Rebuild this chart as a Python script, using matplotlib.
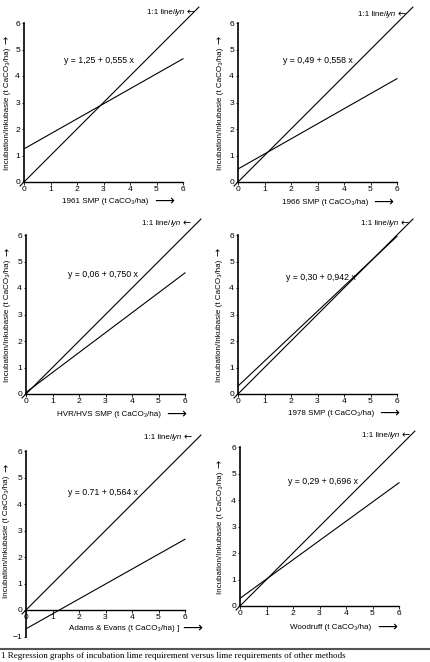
import matplotlib
matplotlib.use("Agg")
import matplotlib.pyplot as plt
from matplotlib.lines import Line2D

plt.rcParams['font.family'] = ['Liberation Sans', 'DejaVu Sans']

# data
x_names = ["1961 SMP", "1966 SMP", "HVR/HVS SMP", "1978 SMP",
           "Adams & Evans", "Woodruff"]
equations = ["y = 1,25 + 0,555 x", "y = 0,49 + 0,558 x", "y = 0,06 + 0,750 x",
             "y = 0,30 + 0,942 x", "y = 0.71 + 0,564 x", "y = 0,29 + 0,696 x"]
reg_x = [0, 6]
reg_y_start = [1.25, 0.49, 0.06, 0.30, -0.71, 0.29]
reg_y_end = [4.65, 3.9, 4.57, 5.95, 2.67, 4.65]
one_to_one = [-0.15, 6.6]
ticks = [0, 1, 2, 3, 4, 5, 6]

# layout in pixels (origin of each panel) and label spots in data units
W, H = 430, 662
origins = [(24, 182), (238, 182), (26, 394), (238, 394), (26, 610), (240, 606)]
scale = 26.5
eq_pos = [(1.5, 4.6), (1.7, 4.6), (1.6, 4.5), (1.8, 4.4), (1.6, 4.45), (1.8, 4.7)]
xl_pos = [(1.45, -0.72), (1.65, -0.77), (1.17, -0.77), (1.87, -0.73), (1.62, -0.68), (1.9, -0.8)]
yl_x = [-0.64, -0.67, -0.68, -0.71, -0.72, -0.75]
lyn_pos = [(6.45, 6.4), (6.33, 6.33), (6.2, 6.45), (6.45, 6.44), (6.26, 6.5), (6.4, 6.45)]

fig = plt.figure(figsize=(W / 100, H / 100), dpi=100)

xmin, xmax, ymin, ymax = -0.9, 6.9, -1.3, 6.9
fs = 5.8

for i in range(6):
    ox, oy = origins[i]
    left = (ox + xmin * scale) / W
    bottom = (H - (oy - ymin * scale)) / H
    w = (xmax - xmin) * scale / W
    h = (ymax - ymin) * scale / H
    ax = fig.add_axes([left, bottom, w, h])
    ax.set_xlim(xmin, xmax)
    ax.set_ylim(ymin, ymax)
    ax.patch.set_visible(False)

    ax.plot(one_to_one, one_to_one, color='black', lw=0.8, clip_on=False)
    ax.plot(reg_x, [reg_y_start[i], reg_y_end[i]], color='black', lw=0.8, clip_on=False)

    for s in ['top', 'right']:
        ax.spines[s].set_visible(False)
    ax.spines['left'].set_linewidth(1.2)
    ax.spines['bottom'].set_linewidth(1.0)
    ax.spines['bottom'].set_bounds(0, 6)
    ax.spines['left'].set_position(('data', 0))
    ax.spines['bottom'].set_position(('data', 0))
    if i == 4:
        ax.spines['left'].set_bounds(-1, 6)
        ax.set_yticks([-1] + ticks)
    else:
        ax.spines['left'].set_bounds(0, 6)
        ax.set_yticks(ticks)
    ax.set_xticks(ticks)
    ax.tick_params(direction='out', length=1.8, width=0.6, labelsize=6.1, pad=1)

    ax.text(eq_pos[i][0], eq_pos[i][1], equations[i], fontsize=6.3, va='center')

    xt = ax.text(xl_pos[i][0], xl_pos[i][1],
                 x_names[i] + " (t CaCO₃/ha)" + (" ]" if i == 4 else ""),
                 fontsize=fs, va='center')
    ax.annotate("⟶", xy=(1, 0.5), xycoords=xt, xytext=(2 if i == 4 else 4, 0),
                textcoords='offset points', fontsize=10, family='DejaVu Sans',
                ha='left', va='center')

    yt = ax.text(yl_x[i], 2.75, "Incubation/Inkubasie (t CaCO₃/ha)",
                 fontsize=fs, rotation=90, ha='center', va='center')
    ax.annotate("→", xy=(0.5, 1), xycoords=yt, xytext=(0, 3),
                textcoords='offset points', fontsize=7, family='DejaVu Sans',
                rotation=90, ha='center', va='bottom')

    arr = ax.text(lyn_pos[i][0], lyn_pos[i][1], "←", fontsize=7,
                  family='DejaVu Sans', ha='right', va='center')
    lyn = ax.annotate("lyn", xy=(0, 0.5), xycoords=arr, xytext=(-1, 0),
                      textcoords='offset points', fontsize=fs, style='italic',
                      ha='right', va='center')
    ax.annotate("1:1 line/", xy=(0, 0.5), xycoords=lyn, xytext=(0, 0),
                textcoords='offset points', fontsize=fs, ha='right', va='center')

fig.add_artist(Line2D([0, 1], [(H - 649) / H, (H - 649) / H], color='#555555', lw=1.5))
fig.text(0.002, (H - 656) / H,
         "1 Regression graphs of incubation lime requirement versus lime requirements of other methods",
         fontsize=6.5, family='Liberation Serif', va='center', ha='left')

fig.savefig("out.png", dpi=100)
